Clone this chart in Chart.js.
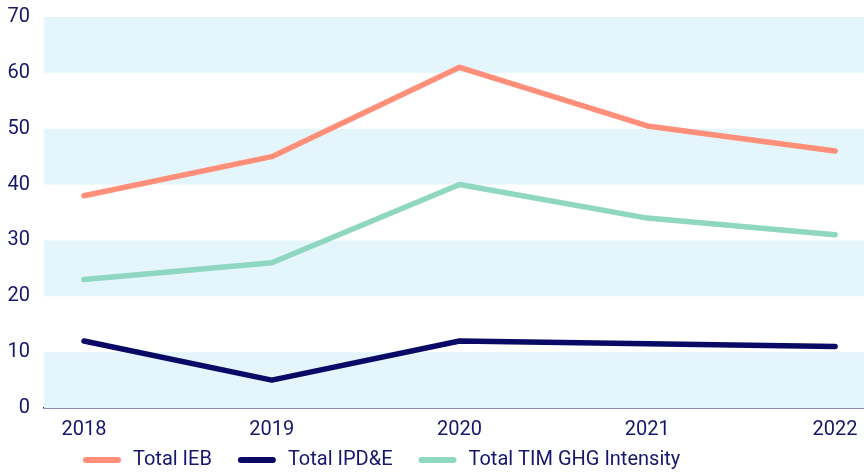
<!DOCTYPE html>
<html>
<head>
<meta charset="utf-8">
<script src="https://cdn.jsdelivr.net/npm/chart.js@4"></script>
<style>
  html, body { margin: 0; padding: 0; background: #fff; }
  #wrap { width: 864px; height: 472px; }
</style>
</head>
<body>
<div id="wrap"><canvas id="emissionsChart"></canvas></div>
<script>
const years = [2018, 2019, 2020, 2021, 2022];
const totalIEB = [38, 45, 61, 50.5, 46];
const totalIPDE = [12, 5, 12, 11.5, 11];
const totalTIM = [23, 26, 40, 34, 31];
const yTicks = [0, 10, 20, 30, 40, 50, 60, 70];
// shaded bands, pairs of [from, to]
const bands = [[0, 10], [20, 30], [40, 50], [60, 70]];

const navy = '#16166c';
const fontFamily = 'Roboto, "Noto Sans", sans-serif';

// paint the alternating light blue bands behind the lines
const bandPlugin = {
    id: 'bands',
    beforeDatasetsDraw(chart) {
        const { ctx, chartArea, scales } = chart;
        ctx.save();
        ctx.fillStyle = '#e4f6fc';
        bands.forEach(b => {
            const top = scales.y.getPixelForValue(b[1]);
            const bottom = scales.y.getPixelForValue(b[0]);
            ctx.fillRect(chartArea.left, top, chartArea.right - chartArea.left, bottom - top);
        });
        ctx.restore();
    }
};

// legend drawn by hand so the spacing matches the original
const legendPlugin = {
    id: 'lineLegend',
    afterDraw(chart) {
        const ctx = chart.ctx;
        let x = 83;
        const y = 460;
        ctx.save();
        ctx.font = '20px ' + fontFamily;
        ctx.textBaseline = 'middle';
        chart.data.datasets.forEach(ds => {
            ctx.strokeStyle = ds.borderColor;
            ctx.lineWidth = 6;
            ctx.lineCap = 'round';
            ctx.beginPath();
            ctx.moveTo(x + 3, y);
            ctx.lineTo(x + 35, y);
            ctx.stroke();
            x += 50;
            ctx.fillStyle = navy;
            ctx.fillText(ds.label, x, y);
            x += ctx.measureText(ds.label).width + 26;
        });
        ctx.restore();
    }
};

const toPoints = arr => arr.map((v, i) => ({ x: years[i], y: v }));

function lineSet(label, data, color) {
    return {
        label: label,
        data: toPoints(data),
        borderColor: color,
        backgroundColor: color,
        borderWidth: 5.5,
        borderCapStyle: 'round',
        borderJoinStyle: 'round',
        pointRadius: 0,
        fill: false,
        tension: 0
    };
}

const ctx = document.getElementById('emissionsChart').getContext('2d');
new Chart(ctx, {
    type: 'line',
    data: {
        datasets: [
            lineSet('Total IEB', totalIEB, '#ff8f78'),
            lineSet('Total IPD&E', totalIPDE, '#0a0a66'),
            lineSet('Total TIM GHG Intensity', totalTIM, '#8fd7c0')
        ]
    },
    plugins: [bandPlugin, legendPlugin],
    options: {
        responsive: true,
        maintainAspectRatio: false,
        animation: false,
        layout: { padding: { top: 17, right: 0, left: 0, bottom: 0 } },
        plugins: {
            tooltip: { enabled: false },
            legend: { display: false }
        },
        scales: {
            x: {
                type: 'linear',
                min: 2017.787,
                max: 2022.154,
                afterBuildTicks: axis => { axis.ticks = years.map(v => ({ value: v })); },
                afterFit: axis => { axis.height = 64; axis.paddingLeft = 0; axis.paddingRight = 0; },
                grid: { display: false },
                border: { display: true, color: navy, width: 1.5 },
                ticks: {
                    color: navy,
                    font: { family: fontFamily, size: 20 },
                    padding: 2,
                    maxRotation: 0,
                    callback: v => String(v)
                }
            },
            y: {
                min: 0,
                max: 70,
                afterBuildTicks: axis => { axis.ticks = yTicks.map(v => ({ value: v })); },
                afterFit: axis => { axis.width = 44; axis.paddingTop = 0; axis.paddingBottom = 0; },
                grid: { display: false },
                border: { display: false },
                ticks: {
                    color: navy,
                    font: { family: fontFamily, size: 20 },
                    padding: 6
                }
            }
        }
    }
});
</script>
</body>
</html>
